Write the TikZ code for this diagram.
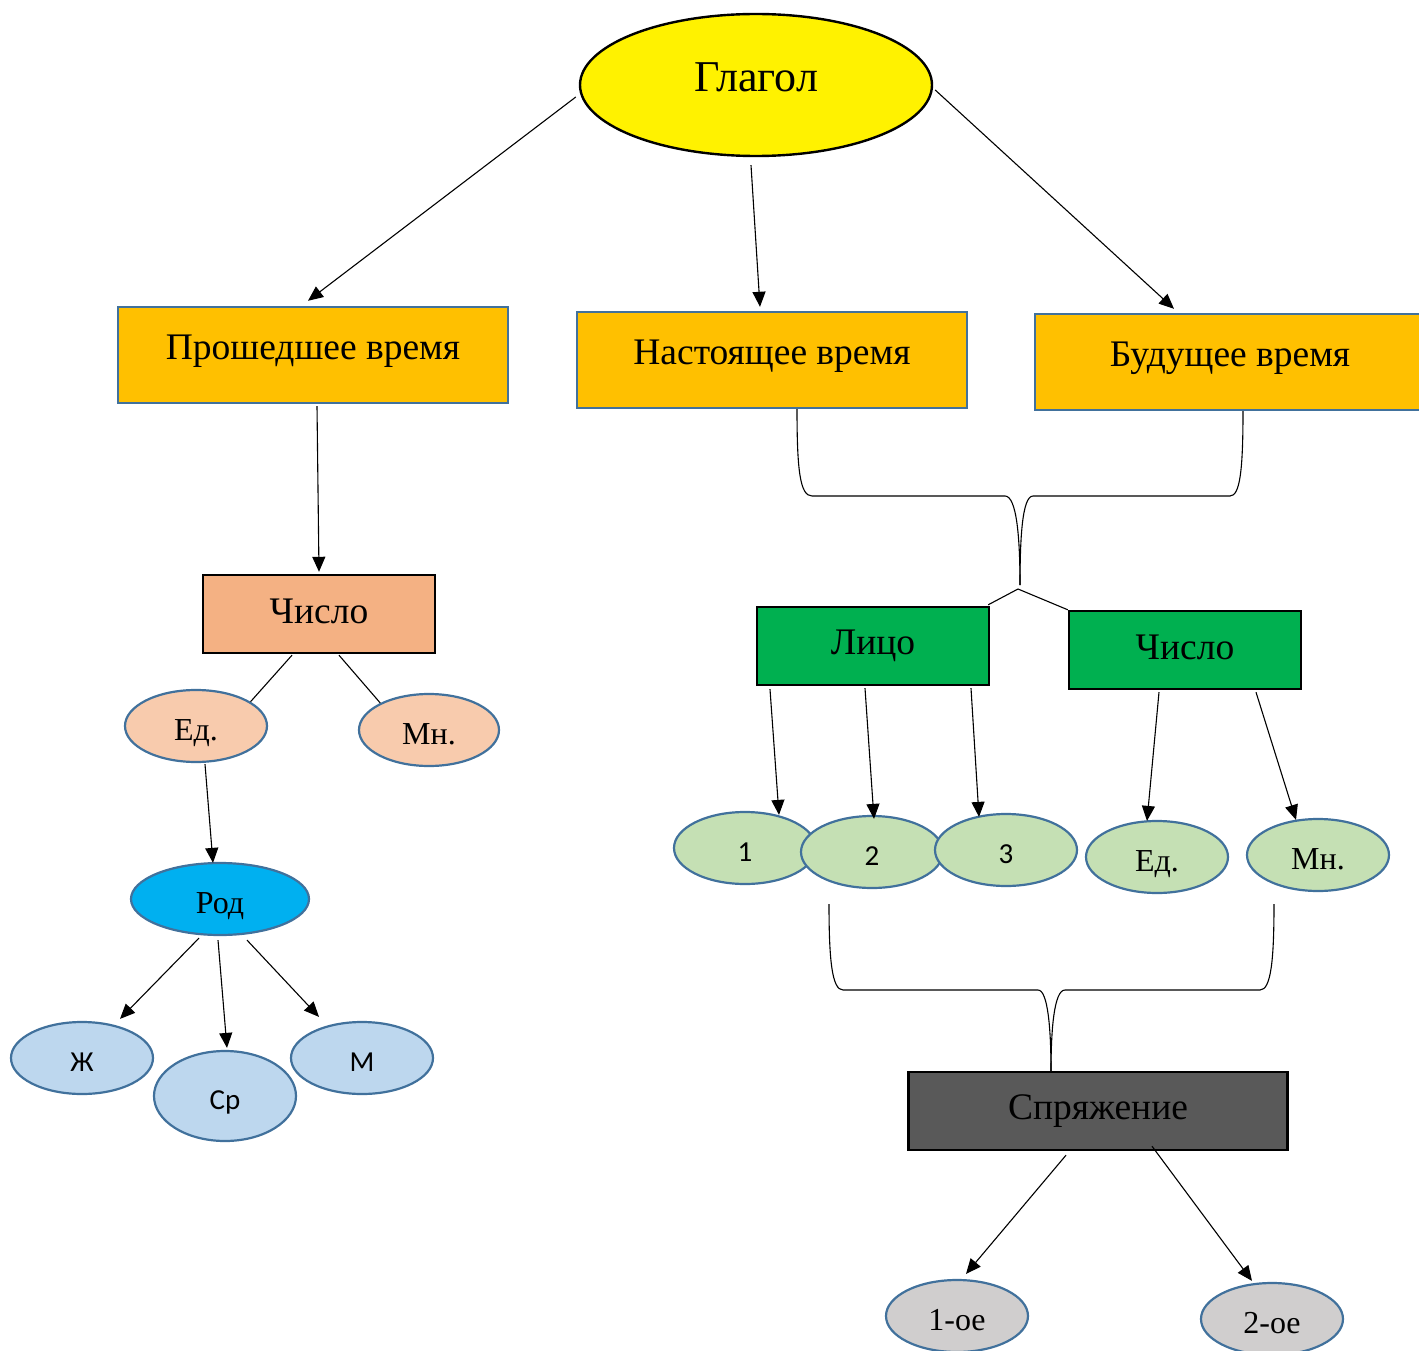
\documentclass[tikz,border=0pt]{standalone}
\usepackage{fontspec}
\setmainfont{Liberation Serif}
\newfontfamily\calfont{Carlito}
\usetikzlibrary{shapes.geometric,arrows.meta}
\definecolor{edgeblue}{HTML}{41719C}
\definecolor{gold}{HTML}{FFC000}
\definecolor{peachdark}{HTML}{F4B183}
\definecolor{peach}{HTML}{F8CBAD}
\definecolor{cyanb}{HTML}{00B0F0}
\definecolor{lightblue}{HTML}{BDD7EE}
\definecolor{greenbox}{HTML}{00B050}
\definecolor{lightgreen}{HTML}{C5E0B4}
\definecolor{darkgrey}{HTML}{595959}
\definecolor{lightgrey}{HTML}{D0CECE}
\tikzset{
  ell/.style={ellipse, draw=edgeblue, line width=2.2pt, inner sep=0pt, minimum width=142pt, minimum height=72pt, text depth=0pt},
  bigbox/.style={rectangle, draw=edgeblue, fill=gold, line width=2.4pt, inner sep=0pt, minimum width=390pt, minimum height=96pt, font=\fontsize{37.5}{40}\selectfont},
  midbox/.style={rectangle, draw=black, line width=2.4pt, inner sep=0pt, minimum width=232pt, minimum height=78pt, font=\fontsize{37.5}{40}\selectfont},
  sertext/.style={font=\fontsize{32}{34}\selectfont, text height=29pt},
  santext/.style={font=\calfont\fontsize{29}{31}\selectfont, text height=26pt},
  arr/.style={-{Triangle[length=15pt,width=13pt]}, line width=1.1pt},
  ln/.style={line width=1.1pt}
}
\begin{document}
\begin{tikzpicture}[x=1pt,y=-1pt]
\useasboundingbox (0,0) rectangle (1419,1351);
% top
\node[ellipse, draw=black, fill=yellow, line width=2.4pt, inner sep=0pt, minimum width=352pt, minimum height=142pt, font=\fontsize{44}{48}\selectfont] (glagol) at (756,85) {\raisebox{16pt}{Глагол}};
\node[bigbox] (past) at (313,355) {\raisebox{16pt}{Прошедшее время}};
\node[bigbox] (pres) at (772,360) {\raisebox{16pt}{Настоящее время}};
\node[bigbox] (fut) at (1230,362) {\raisebox{16pt}{Будущее время}};
\draw[arr] ([shift={(-3,12)}]glagol.west) -- ([shift={(-5,-5)}]past.north);
\draw[arr] ([shift={(-5,8)}]glagol.south) -- ([shift={(-12,-4)}]pres.north);
\draw[arr] ([shift={(2,5)}]glagol.east) -- ([shift={(-56,-4)}]fut.north);
% left branch
\node[midbox, fill=peachdark] (chislo1) at (319,614) {\raisebox{6pt}{Число}};
\draw[arr] ([shift={(4,2)}]past.south) -- ([shift={(0,-2)}]chislo1.north);
\node[ell, fill=peach, sertext] (ed1) at (196,726) {Ед.};
\node[ell, fill=peach, minimum width=140pt, sertext] (mn1) at (429,730) {Мн.};
\draw[ln] ([shift={(-27,1)}]chislo1.south) -- (ed1.24);
\draw[ln] ([shift={(20,1)}]chislo1.south) -- (mn1.151);
\node[ell, fill=cyanb, minimum width=178pt, sertext] (rod) at (220,899) {Род};
\draw[arr] ([shift={(9,1)}]ed1.south) -- ([shift={(-7,1)}]rod.north);
\node[ell, fill=lightblue, santext] (zh) at (82,1058) {Ж};
\node[ell, fill=lightblue, minimum height=90pt, santext] (sr) at (225,1096) {Ср};
\node[ell, fill=lightblue, santext] (m) at (362,1058) {М};
\draw[arr] ([shift={(-21,2)}]rod.south) -- ([shift={(38,-2)}]zh.north);
\draw[arr] ([shift={(-2,4)}]rod.south) -- ([shift={(2,-2)}]sr.north);
\draw[arr] ([shift={(27,4)}]rod.south) -- ([shift={(-43,-4)}]m.north);
% right branch
\coordinate (brace1) at (1020,585);
\coordinate (fork) at (1018,589);
\draw[ln] ([xshift=25pt]pres.south) .. controls (797,470) and (800,496) .. (812,496) -- (1005,496) .. controls (1017,496) and (1020,540) .. (brace1);
\draw[ln] ([xshift=13pt]fut.south) .. controls (1243,470) and (1240,496) .. (1230,496) -- (1033,496) .. controls (1022,496) and (1020,540) .. (brace1);
\node[midbox, fill=greenbox] (lico) at (873,646) {\raisebox{6pt}{Лицо}};
\node[midbox, fill=greenbox] (chislo2) at (1185,650) {\raisebox{5pt}{Число}};
\draw[ln] ([shift={(-2,-1)}]lico.north east) -- (fork) -- (chislo2.north west);
\node[ell, fill=lightgreen, santext] (n1) at (745,848) {1};
\node[ell, fill=lightgreen, santext] (n2) at (872,852) {2};
\node[ell, fill=lightgreen, santext] (n3) at (1006,850) {3};
\node[ell, fill=lightgreen, sertext] (ed2) at (1157,857) {Ед.};
\node[ell, fill=lightgreen, sertext] (mn2) at (1318,855) {Мн.};
\draw[arr] ([shift={(-103,3)}]lico.south) -- ([shift={(34,4)}]n1.north);
\draw[arr] ([shift={(-8,2)}]lico.south) -- ([shift={(2,4)}]n2.north);
\draw[arr] ([shift={(98,2)}]lico.south) -- ([shift={(-27,4)}]n3.north);
\draw[arr] ([shift={(-26,2)}]chislo2.south) -- ([shift={(-10,1)}]ed2.north);
\draw[arr] ([shift={(71,2)}]chislo2.south) -- ([shift={(-22,2)}]mn2.north);
% conjugation
\node[midbox, fill=darkgrey, minimum width=379pt] (spr) at (1098,1111) {\raisebox{3pt}{Спряжение}};
\draw[ln] ([shift={(-43,15)}]n2.south) .. controls (829,960) and (832,990) .. (843,990) -- (1038,990) .. controls (1048,990) and (1051,1030) .. ([xshift=-47pt]spr.north);
\draw[ln] ([shift={(-44,12)}]mn2.south) .. controls (1274,960) and (1271,990) .. (1260,990) -- (1065,990) .. controls (1054,990) and (1051,1030) .. ([xshift=-47pt]spr.north);
\node[ell, fill=lightgrey, sertext] (e1) at (957,1316) {1-ое};
\node[ell, fill=lightgrey, sertext] (e2) at (1272,1319) {2-ое};
\draw[arr] ([shift={(-32,4)}]spr.south) -- ([shift={(9,-5)}]e1.north);
\draw[arr] ([shift={(54,-5)}]spr.south) -- ([shift={(-20,-1)}]e2.north);
\end{tikzpicture}
\end{document}
